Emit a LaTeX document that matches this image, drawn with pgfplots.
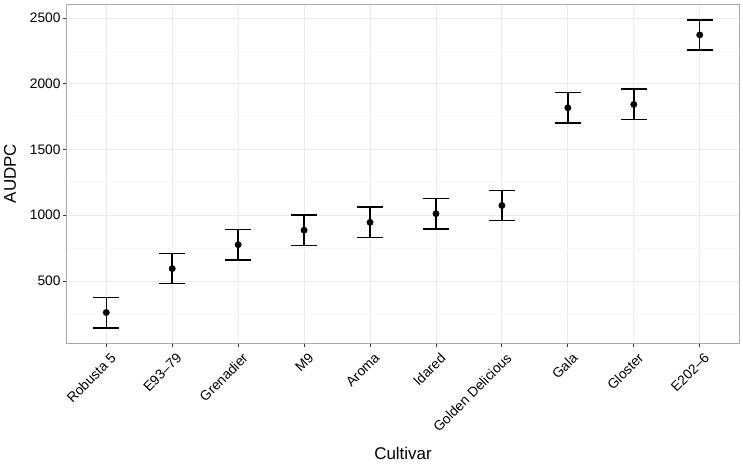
\documentclass[border=0pt]{standalone}
\usepackage{fontspec}
\setmainfont{Liberation Sans}
\usepackage{pgfplots}
\usepackage{pgfplotstable}
\pgfplotsset{compat=1.18}
\definecolor{majgrid}{RGB}{235,235,235}
\definecolor{mingrid}{RGB}{248,248,248}
\definecolor{border}{RGB}{170,170,170}
\pgfplotstableread{
x y e
0 260 116
1 594 115
2 776 115
3 886 115
4 946 115
5 1012 115
6 1074 115
7 1818 116
8 1843 116
9 2372 115
}\audpc
\begin{document}
\begin{tikzpicture}
\useasboundingbox (-66.7bp,-122bp) rectangle (676.3bp,343bp);
\begin{axis}[
  at={(0,0)}, anchor=south west,
  scale only axis, width=672.6bp, height=339bp,
  xmin=-0.6, xmax=9.6, ymin=28, ymax=2607,
  xtick={0,...,9},
  xticklabels={Robusta 5, E93--79, Grenadier, M9, Aroma, Idared, Golden Delicious, Gala, Gloster, E202--6},
  ytick={500,1000,1500,2000,2500},
  minor ytick={250,750,1250,1750,2250},
  grid=both,
  major grid style={majgrid, line width=0.9bp},
  minor grid style={mingrid, line width=0.7bp},
  axis line style={border, line width=0.9bp},
  tick style={black!80, line width=0.9bp},
  major tick length=4bp, minor tick length=0pt,
  tick align=outside, xtick pos=left, ytick pos=left,
  /pgf/number format/assume math mode=true,
  /pgf/number format/set thousands separator={},
  tick label style={font=\fontsize{13.8}{14}\selectfont, black},
  x tick label style={rotate=45, anchor=north east, inner sep=2bp, yshift=-4bp, xshift=1bp},
  y tick label style={inner sep=2bp},
  xlabel=Cultivar, ylabel=AUDPC,
  label style={font=\fontsize{17}{18}\selectfont},
  xlabel style={at={(axis description cs:0.5,-0.3245)}, anchor=center},
  ylabel style={at={(axis description cs:-0.0843,0.5)}, anchor=center},
  clip=false,
]
\addplot[only marks, mark=*, mark size=3.2bp, black,
  error bars/.cd, y dir=both, y explicit,
  error bar style={line width=1.5bp, black},
  error mark options={rotate=90, black, mark size=13bp, line width=1.5bp}]
  table[x=x, y=y, y error=e] {\audpc};
\end{axis}
\end{tikzpicture}
\end{document}
